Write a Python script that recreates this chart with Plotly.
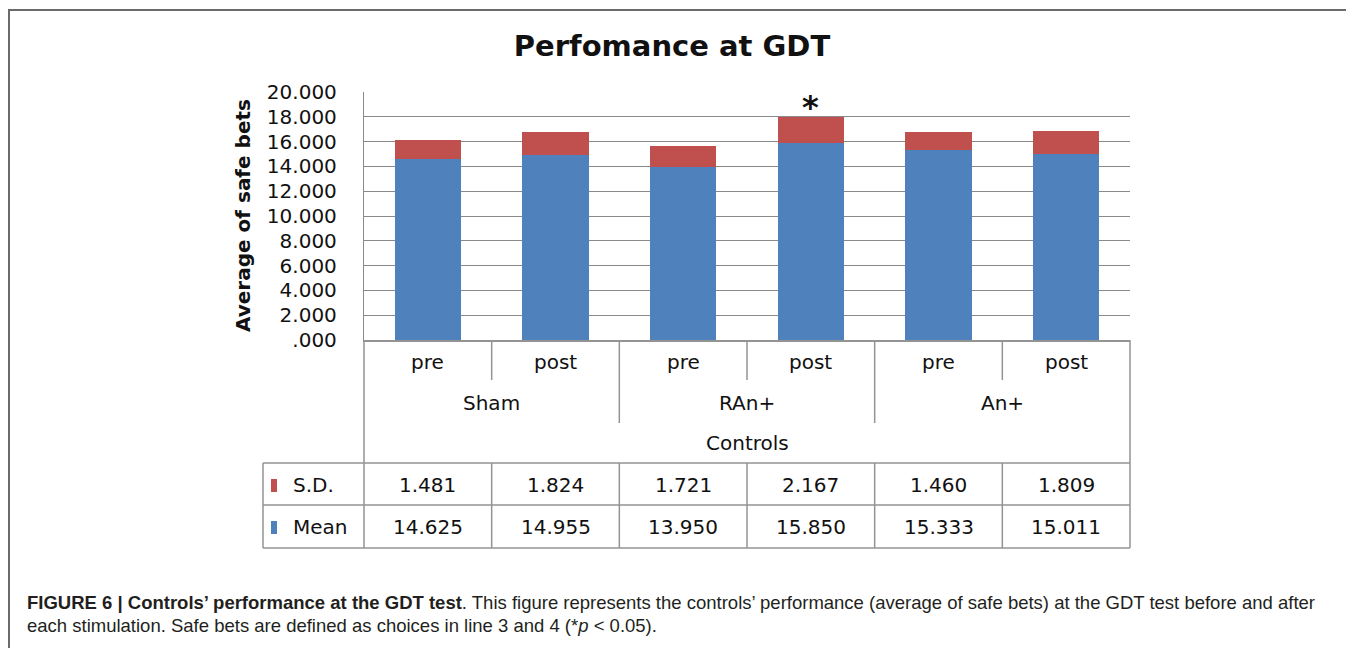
import plotly.graph_objects as go

# ---------------- data ----------------
groups = ["Sham", "RAn+", "An+"]
conditions = ["pre", "post"]
super_group = "Controls"
mean_vals = [14.625, 14.955, 13.950, 15.850, 15.333, 15.011]
sd_vals = [1.481, 1.824, 1.721, 2.167, 1.460, 1.809]
significance = ["", "", "", "*", "", ""]
y_tickvals = [0, 2, 4, 6, 8, 10, 12, 14, 16, 18, 20]
y_ticktext = [".000", "2.000", "4.000", "6.000", "8.000", "10.000",
              "12.000", "14.000", "16.000", "18.000", "20.000"]
series_names = ["S.D.", "Mean"]
title_text = "Perfomance at GDT"
y_title = "Average of safe bets"
caption_1 = ("<b>FIGURE 6 | Controls\u2019 performance at the GDT test</b>. This figure represents the "
             "controls\u2019 performance (average of safe bets) at the GDT test before and after")
caption_2 = ("each stimulation. Safe bets are defined as choices in line 3 and 4 "
             "(*<i>p</i> &lt; 0.05).")

# ---------------- styling ----------------
OFF = 8                      # page body margin
W, H = 1354 - OFF, 648 - OFF
BLUE = "#4F81BD"
RED = "#C0504D"
GRID = "#8a8a8a"
TBL = "#939393"
TXT = "#111111"
CH_FONT = "DejaVu Sans"
CAP_FONT = "Liberation Sans"


def px(v):
    return (v - OFF) / W


def py(v):
    return 1 - (v - OFF) / H


cats = [f"{g} {c}" for g in groups for c in conditions]
n = len(cats)

fig = go.Figure()
fig.add_trace(go.Bar(x=cats, y=mean_vals, name=series_names[1], marker=dict(color=BLUE, line=dict(width=0))))
fig.add_trace(go.Bar(x=cats, y=sd_vals, name=series_names[0], marker=dict(color=RED, line=dict(width=0))))

x_dom = [px(364), px(1130)]
y_dom = [py(340), py(92)]

shapes = []
annotations = []


def label(x, y, text, size=20, xref="x", xanchor="center", **kw):
    d = dict(x=x, y=y, xref=xref, yref="paper", text=text, showarrow=False,
             xanchor=xanchor, yanchor="middle", font=dict(family=CH_FONT, size=size, color=TXT))
    d.update(kw)
    annotations.append(d)


def line(x0, x1, y0, y1, xref="x"):
    shapes.append(dict(type="line", xref=xref, yref="paper", x0=x0, x1=x1, y0=y0, y1=y1,
                       line=dict(color=TBL, width=1.5)))


# outer frame
shapes.append(dict(type="rect", xref="paper", yref="paper", x0=px(9), x1=px(1350), y0=py(700), y1=py(10),
                   line=dict(color="#6a6a6a", width=2), fillcolor="rgba(0,0,0,0)", layer="above"))

# category block + data table edges
for xd in (0, 1):
    line(xd, xd, py(340), py(548), xref="x domain")
# inner dividers
for i in range(1, n):
    y_bot = py(423) if i % len(conditions) == 0 else py(380)
    line(i - 0.5, i - 0.5, py(340), y_bot)
    line(i - 0.5, i - 0.5, py(463), py(548))
# horizontal table lines (spanning legend column)
for yy in (463, 505, 548):
    line(px(263), x_dom[1], py(yy), py(yy), xref="paper")
line(px(263), px(263), py(463), py(548), xref="paper")

# category / value labels
for i, c in enumerate(cats):
    label(i, py(362), conditions[i % len(conditions)])
    label(i, py(485), f"{sd_vals[i]:.3f}")
    label(i, py(527), f"{mean_vals[i]:.3f}")
    if significance[i]:
        annotations.append(dict(x=c, y=mean_vals[i] + sd_vals[i], xref="x", yref="y",
                                text=f"<b>{significance[i]}</b>",
                                showarrow=False, xanchor="center", yanchor="bottom", yshift=-11,
                                font=dict(family=CH_FONT, size=32, color=TXT)))
for gi, g in enumerate(groups):
    xc = gi * len(conditions) + (len(conditions) - 1) / 2
    label(xc, py(403), g)
label((n - 1) / 2, py(443), super_group)

# legend column
for name, color, yy in ((series_names[0], RED, 485), (series_names[1], BLUE, 527)):
    shapes.append(dict(type="rect", xref="paper", yref="paper", x0=px(271), x1=px(277), y0=py(yy + 7),
                       y1=py(yy - 6), fillcolor=color, line=dict(width=0)))
    label(px(291), py(yy), name, xref="paper", xanchor="left")

# y-axis title
annotations.append(dict(x=px(243), y=py(216), xref="paper", yref="paper", text=f"<b>{y_title}</b>",
                        textangle=-90, showarrow=False, xanchor="center", yanchor="middle",
                        font=dict(family=CH_FONT, size=20, color=TXT)))

# caption
for txt, yy in ((caption_1, 602), (caption_2, 625)):
    annotations.append(dict(x=px(25), y=py(yy), xref="paper", yref="paper", text=txt, showarrow=False,
                            xanchor="left", yanchor="middle",
                            font=dict(family=CAP_FONT, size=18.5, color="#231f20")))

fig.update_layout(
    width=W, height=H, autosize=False,
    margin=dict(l=0, r=0, t=0, b=0, autoexpand=False),
    paper_bgcolor="white", plot_bgcolor="white",
    barmode="stack", bargap=0.48,
    showlegend=False,
    title=dict(text=f"<b>{title_text}</b>", x=px(672), y=py(46), xanchor="center", yanchor="middle",
               font=dict(family=CH_FONT, size=29, color=TXT)),
    xaxis=dict(domain=x_dom, type="category", range=[-0.5, n - 0.5], showticklabels=False,
               showgrid=False, showline=True, linecolor=TBL, linewidth=1.5, ticks="", zeroline=False,
               automargin=False),
    yaxis=dict(domain=y_dom, range=[0, 20], tickvals=y_tickvals, ticktext=y_ticktext,
               showgrid=True, gridcolor=GRID, gridwidth=1.3, showline=True, linecolor=GRID, linewidth=1.3,
               ticks="", ticklabelstandoff=22, zeroline=False, automargin=False,
               tickfont=dict(family=CH_FONT, size=20, color=TXT)),
    shapes=shapes, annotations=annotations,
)

fig.write_html("out.html")
